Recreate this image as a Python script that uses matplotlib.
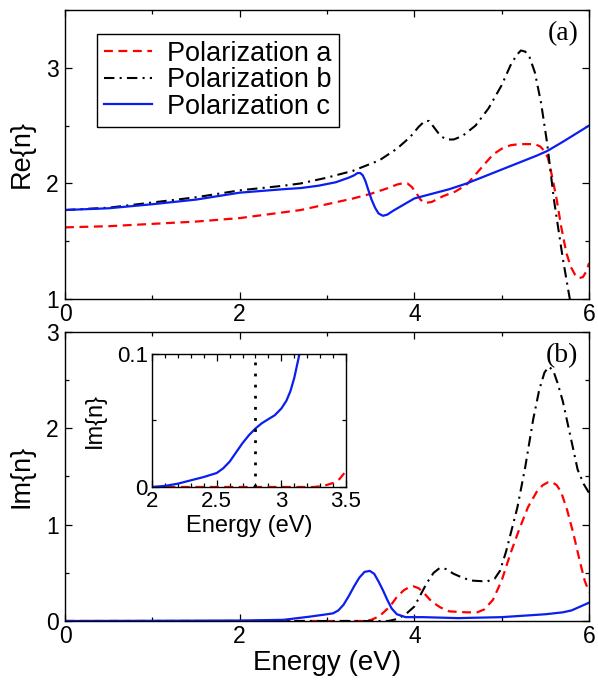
import matplotlib
matplotlib.use("Agg")
import matplotlib.pyplot as plt
from matplotlib.ticker import MultipleLocator, FuncFormatter

# Re{n}, panel (a)
re_a_E = [0, 0.5, 1, 1.5, 2, 2.5, 2.7, 3.0, 3.3, 3.5, 3.7, 3.8, 3.86, 3.92, 3.97, 4.02, 4.07,
          4.12, 4.2, 4.33, 4.47, 4.6, 4.75, 4.9, 5.0, 5.1, 5.2, 5.3, 5.38, 5.44, 5.49, 5.53, 5.58,
          5.63, 5.68, 5.74, 5.79, 5.84, 5.88, 5.93, 5.97, 6.0]
re_a = [1.62, 1.63, 1.65, 1.67, 1.70, 1.75, 1.77, 1.82, 1.87, 1.91, 1.96, 1.99, 2.0, 2.0, 1.97,
        1.92, 1.86, 1.83, 1.84, 1.89, 1.93, 1.99, 2.12, 2.25, 2.30, 2.33, 2.34, 2.34, 2.34, 2.32,
        2.28, 2.22, 2.05, 1.86, 1.63, 1.40, 1.28, 1.21, 1.18, 1.19, 1.24, 1.31]

re_b_E = [0, 0.5, 1, 1.5, 2, 2.5, 2.7, 3.0, 3.3, 3.6, 3.8, 3.95, 4.05, 4.12, 4.17, 4.23, 4.3,
          4.37, 4.45, 4.55, 4.7, 4.85, 5.0, 5.1, 5.17, 5.22, 5.27, 5.32, 5.38, 5.45, 5.52, 5.6,
          5.7, 5.78, 5.85]
re_b = [1.77, 1.79, 1.835, 1.88, 1.94, 1.98, 2.0, 2.05, 2.11, 2.20, 2.30, 2.40, 2.49, 2.54, 2.54,
        2.48, 2.41, 2.38, 2.38, 2.41, 2.50, 2.65, 2.85, 3.02, 3.11, 3.15, 3.14, 3.09, 2.96, 2.7,
        2.35, 1.85, 1.35, 1.0, 0.7]

re_c_E = [0, 0.5, 1, 1.5, 2, 2.5, 2.7, 2.9, 3.1, 3.25, 3.31, 3.35, 3.38, 3.41, 3.44, 3.47, 3.51,
          3.55, 3.59, 3.64, 3.69, 3.75, 3.84, 4.0, 4.2, 4.4, 4.6, 4.8, 5.0, 5.2, 5.4, 5.52, 5.7,
          5.85, 6.0]
re_c = [1.77, 1.785, 1.82, 1.86, 1.92, 1.95, 1.96, 1.98, 2.01, 2.05, 2.07, 2.09, 2.09, 2.07, 2.02,
        1.95, 1.86, 1.79, 1.74, 1.72, 1.73, 1.76, 1.80, 1.87, 1.91, 1.95, 2.0, 2.06, 2.12, 2.18,
        2.24, 2.28, 2.36, 2.43, 2.5]

# Im{n}, panel (b)
im_a_E = [0, 3.4, 3.5, 3.6, 3.72, 3.8, 3.88, 3.94, 3.99, 4.05, 4.12, 4.2, 4.3, 4.4, 4.6, 4.72,
          4.8, 4.9, 5.0, 5.1, 5.2, 5.3, 5.4, 5.47, 5.53, 5.58, 5.63, 5.68, 5.75, 5.82, 5.9, 5.95,
          6.0]
im_a = [0, 0, 0.01, 0.05, 0.15, 0.25, 0.32, 0.35, 0.36, 0.34, 0.28, 0.20, 0.14, 0.10, 0.09, 0.09,
        0.12, 0.22, 0.42, 0.70, 0.95, 1.18, 1.34, 1.41, 1.44, 1.44, 1.41, 1.34, 1.15, 0.91, 0.60,
        0.42, 0.30]

im_b_E = [0, 3.7, 3.8, 3.9, 4.0, 4.14, 4.22, 4.29, 4.36, 4.45, 4.55, 4.65, 4.83, 4.92, 4.98, 5.05,
          5.18, 5.27, 5.36, 5.43, 5.49, 5.54, 5.59, 5.64, 5.7, 5.76, 5.82, 5.87, 5.94, 6.0]
im_b = [0, 0, 0.02, 0.07, 0.15, 0.39, 0.50, 0.55, 0.54, 0.49, 0.45, 0.42, 0.41, 0.44, 0.52, 0.72,
        1.18, 1.60, 2.09, 2.40, 2.58, 2.64, 2.60, 2.47, 2.28, 2.03, 1.78, 1.57, 1.42, 1.33]

im_c_E = [0, 1, 2, 2.5, 2.8, 3.0, 3.07, 3.13, 3.19, 3.25, 3.31, 3.37, 3.43, 3.49, 3.54, 3.59,
          3.64, 3.69, 3.74, 3.8, 3.9, 4.1, 4.5, 5.0, 5.5, 5.7, 5.8, 5.9, 6.0]
im_c = [0, 0.002, 0.005, 0.012, 0.045, 0.07, 0.08, 0.11, 0.17, 0.26, 0.36, 0.45, 0.51, 0.52, 0.49,
        0.41, 0.32, 0.22, 0.13, 0.07, 0.04, 0.04, 0.03, 0.04, 0.07, 0.09, 0.11, 0.15, 0.19]

# inset: close-up of Im{n} near the absorption edge
ins_c_E = [2.0, 2.1, 2.2, 2.3, 2.4, 2.5, 2.55, 2.6, 2.65, 2.7, 2.75, 2.8, 2.85, 2.9, 2.95, 3.0,
           3.04, 3.07, 3.1, 3.12, 3.14, 3.16]
ins_c = [0, 0.0008, 0.0025, 0.005, 0.0075, 0.0105, 0.014, 0.019, 0.026, 0.033, 0.039, 0.044,
         0.048, 0.051, 0.054, 0.059, 0.065, 0.072, 0.082, 0.091, 0.1, 0.11]
ins_a_E = [2.0, 3.25, 3.3, 3.35, 3.4, 3.45, 3.5]
ins_a = [0, 0, 0.0005, 0.0015, 0.003, 0.006, 0.012]
gap_energy = 2.8

plt.rcParams['font.family'] = ['Liberation Sans', 'DejaVu Sans']

red_style = dict(color='red', lw=1.6, ls=(0, (4, 2.5)))
black_style = dict(color='black', lw=1.5, ls=(0, (5, 2.5, 1, 2.5)))
blue_style = dict(color='#0a1ef0', lw=1.6, ls='-')


def style_axes(ax, xmaj, xmin, ymaj, ymin, size):
    ax.xaxis.set_major_locator(MultipleLocator(xmaj))
    ax.xaxis.set_minor_locator(MultipleLocator(xmin))
    ax.yaxis.set_major_locator(MultipleLocator(ymaj))
    ax.yaxis.set_minor_locator(MultipleLocator(ymin))
    ax.tick_params(which='both', direction='in', top=True, right=True, labelsize=size)
    ax.tick_params(axis='x', pad=3)
    ax.tick_params(axis='y', pad=4.5)
    ax.tick_params(which='major', length=5, width=0.9)
    ax.tick_params(which='minor', length=3, width=0.9)
    for s in ax.spines.values():
        s.set_linewidth(1.0)


fig = plt.figure(figsize=(5.98, 6.81), dpi=100)
ax1 = fig.add_axes([0.1087, 0.5609, 0.8763, 0.4244])
ax2 = fig.add_axes([0.1087, 0.0881, 0.8763, 0.4244])
ax3 = fig.add_axes([0.2542, 0.2849, 0.3244, 0.1953])

# (a)
ax1.plot(re_a_E, re_a, label='Polarization a', **red_style)
ax1.plot(re_b_E, re_b, label='Polarization b', **black_style)
ax1.plot(re_c_E, re_c, label='Polarization c', **blue_style)
ax1.set_xlim(0, 6)
ax1.set_ylim(1, 3.5)
style_axes(ax1, 2, 1, 1, 0.5, 16.5)
ax1.set_ylabel('Re{n}', fontsize=19.5, labelpad=8)
ax1.text(0.98, 0.96, '(a)', transform=ax1.transAxes, ha='right', va='top',
         fontsize=20, family='Liberation Serif')
leg = ax1.legend(loc='upper left', bbox_to_anchor=(0.061, 0.917), borderaxespad=0,
                 fontsize=19.5, frameon=True, fancybox=False, edgecolor='black',
                 framealpha=1, handlelength=1.8, handletextpad=0.55, labelspacing=0.02,
                 borderpad=0.25)
leg.get_frame().set_linewidth(1.0)

# (b)
ax2.plot(im_a_E, im_a, **red_style)
ax2.plot(im_b_E, im_b, **black_style)
ax2.plot(im_c_E, im_c, **blue_style)
ax2.set_xlim(0, 6)
ax2.set_ylim(0, 3)
style_axes(ax2, 2, 1, 1, 0.5, 16.5)
ax2.set_ylabel('Im{n}', fontsize=19.5, labelpad=8)
ax2.set_xlabel('Energy (eV)', fontsize=20, labelpad=1)
ax2.text(0.98, 0.96, '(b)', transform=ax2.transAxes, ha='right', va='top',
         fontsize=20, family='Liberation Serif')

# inset
ax3.plot(ins_a_E, ins_a, **red_style)
ax3.plot(ins_c_E, ins_c, **blue_style)
ax3.axvline(gap_energy, color='black', lw=2, ls=(0, (1, 3)))
ax3.set_xlim(2, 3.5)
ax3.set_ylim(0, 0.1)
style_axes(ax3, 0.5, 0.1, 0.1, 0.05, 16)
ax3.tick_params(axis='both', pad=3)
ax3.tick_params(which='major', length=5)
ax3.tick_params(which='minor', length=3)
ax3.yaxis.set_major_formatter(FuncFormatter(lambda v, p: f'{v:g}'))
ax3.xaxis.set_major_formatter(FuncFormatter(lambda v, p: f'{v:g}'))
ax3.set_xlabel('Energy (eV)', fontsize=17, labelpad=2)
ax3.set_ylabel('Im{n}', fontsize=17, labelpad=8)

fig.savefig('out.png', dpi=100)
